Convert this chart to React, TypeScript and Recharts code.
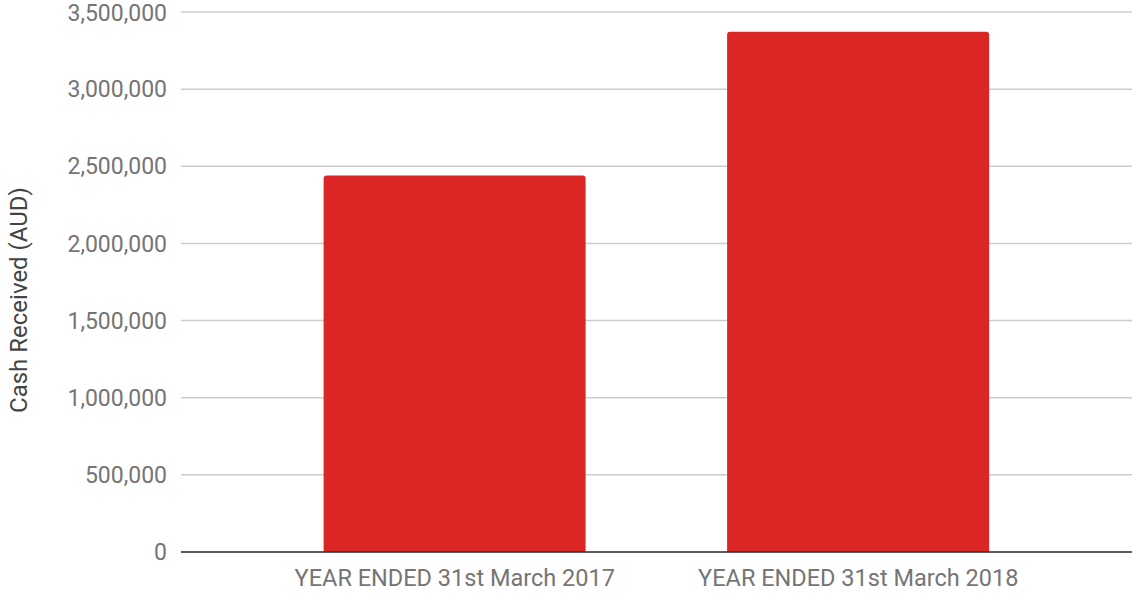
import { BarChart, Bar, XAxis, YAxis, CartesianGrid, Label } from "recharts";

const years = ["YEAR ENDED 31st March 2017", "YEAR ENDED 31st March 2018"];
const cashReceived = [2440000, 3372000];
const yTicks = [0, 500000, 1000000, 1500000, 2000000, 2500000, 3000000, 3500000];

const data = years.map((year, i) => ({ year, cash: cashReceived[i] }));

const font = "Roboto, 'Noto Sans', sans-serif";

function YLabel(props: any) {
  const vb = props.viewBox || {};
  const cx = 19;
  const cy = vb.y + vb.height / 2 + 18;
  return (
    <text
      x={cx}
      y={cy}
      transform={`rotate(-90, ${cx}, ${cy})`}
      textAnchor="middle"
      dominantBaseline="central"
      fill="#444444"
      fontSize={24}
      fontFamily={font}
    >
      Cash Received (AUD)
    </text>
  );
}

export default function App() {
  return (
    <div style={{ position: "absolute", left: 0, top: 0, background: "#fff" }}>
      <BarChart
        width={1134}
        height={593}
        data={data}
        margin={{ top: 12, right: 2, bottom: 0, left: 0 }}
        barCategoryGap="17.5%"
      >
        <CartesianGrid vertical={false} stroke="#cccccc" strokeWidth={1.5} />
        <XAxis
          dataKey="year"
          height={41}
          padding={{ left: 72, right: 72 }}
          tickLine={false}
          tickSize={0}
          tickMargin={17}
          stroke="#333333"
          strokeWidth={1.5}
          tick={{ fill: "#757575", fontSize: 23.5, fontFamily: font }}
        />
        <YAxis
          width={181}
          domain={[0, 3500000]}
          ticks={yTicks}
          axisLine={false}
          tickLine={false}
          tickSize={0}
          tickMargin={14}
          tickFormatter={(v: number) => v.toLocaleString("en-US")}
          tick={{ fill: "#757575", fontSize: 23, fontFamily: font }}
        >
          <Label content={<YLabel />} />
        </YAxis>
        <Bar dataKey="cash" fill="#dc2626" radius={[3, 3, 0, 0]} isAnimationActive={false} />
      </BarChart>
    </div>
  );
}
